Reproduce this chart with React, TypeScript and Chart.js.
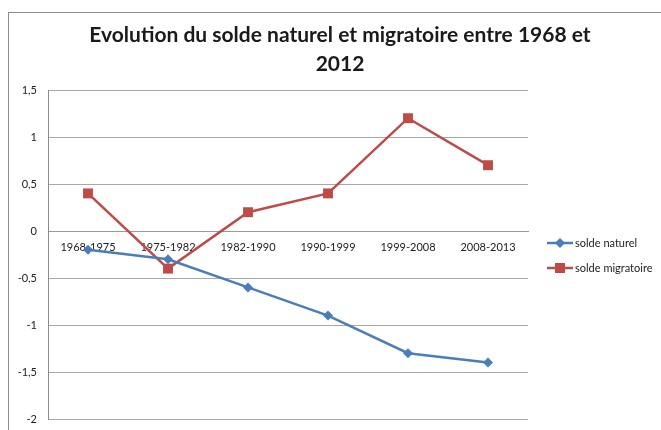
import React, { useEffect, useRef } from "react";
import { Chart, registerables } from "chart.js";
Chart.register(...registerables);

const categories = ["1968-1975", "1975-1982", "1982-1990", "1990-1999", "1999-2008", "2008-2013"];
const soldeNaturel = [-0.2, -0.3, -0.6, -0.9, -1.3, -1.4];
const soldeMigratoire = [0.4, -0.4, 0.2, 0.4, 1.2, 0.7];
const seriesNames = ["solde naturel", "solde migratoire"];
const titleLines = ["Evolution du solde naturel et migratoire entre 1968 et", "2012"];
const yMin = -2;
const yMax = 1.5;
const yStep = 0.5;

const BLUE = "#4A7EBB";
const RED = "#BE4B48";
const FONT = "Lato, 'Open Sans', sans-serif";

const decor = {
  id: "decor",
  beforeDraw(chart: any) {
    const ctx = chart.ctx;
    ctx.save();
    ctx.strokeStyle = "#8c8c8c";
    ctx.lineWidth = 1;
    ctx.strokeRect(8.5, 12.5, 720, 520);
    ctx.restore();
  },
  afterDraw(chart: any) {
    const ctx = chart.ctx;
    ctx.save();
    // title
    ctx.fillStyle = "#1a1a1a";
    ctx.font = `bold 21px ${FONT}`;
    ctx.textAlign = "center";
    ctx.textBaseline = "alphabetic";
    ctx.fillText(titleLines[0], 340, 42);
    ctx.fillText(titleLines[1], 340, 71);
    // legend
    const items = [
      { name: seriesNames[0], color: BLUE, style: "diamond", y: 243 },
      { name: seriesNames[1], color: RED, style: "square", y: 268 },
    ];
    ctx.font = `11px ${FONT}`;
    ctx.textAlign = "left";
    ctx.textBaseline = "middle";
    for (const it of items) {
      ctx.strokeStyle = it.color;
      ctx.lineWidth = 2.5;
      ctx.beginPath();
      ctx.moveTo(547, it.y);
      ctx.lineTo(573, it.y);
      ctx.stroke();
      ctx.fillStyle = it.color;
      if (it.style === "square") {
        ctx.fillRect(560 - 5, it.y - 5, 10, 10);
      } else {
        ctx.beginPath();
        ctx.moveTo(560, it.y - 5);
        ctx.lineTo(565, it.y);
        ctx.lineTo(560, it.y + 5);
        ctx.lineTo(555, it.y);
        ctx.closePath();
        ctx.fill();
      }
      ctx.fillStyle = "#222";
      ctx.fillText(it.name, 575, it.y);
    }
    ctx.restore();
  },
};

export default function App() {
  const ref = useRef<HTMLCanvasElement>(null);
  useEffect(() => {
    if (!ref.current) return;
    const chart = new Chart(ref.current, {
      type: "line",
      data: {
        labels: categories,
        datasets: [
          {
            label: seriesNames[0],
            data: soldeNaturel,
            borderColor: BLUE,
            backgroundColor: BLUE,
            borderWidth: 2.5,
            pointStyle: "rectRot",
            pointRadius: 5,
            pointBorderWidth: 0,
            tension: 0,
          },
          {
            label: seriesNames[1],
            data: soldeMigratoire,
            borderColor: RED,
            backgroundColor: RED,
            borderWidth: 2.5,
            pointStyle: "rect",
            pointRadius: 7,
            pointBorderWidth: 0,
            tension: 0,
          },
        ],
      },
      options: {
        responsive: false,
        animation: false,
        layout: { padding: { top: 90, right: 133, bottom: 11, left: 0 } },
        plugins: { legend: { display: false }, title: { display: false }, tooltip: { enabled: false } },
        scales: {
          x: {
            type: "category",
            position: { y: 0 } as any,
            offset: true,
            grid: { display: false, drawTicks: false },
            border: { display: true, color: "#9a9a9a", width: 1 },
            ticks: { font: { family: FONT, size: 11 }, color: "#222", padding: 10, maxRotation: 0, autoSkip: false },
          },
          y: {
            min: yMin,
            max: yMax,
            grid: { color: "#a8a8a8", drawTicks: false, lineWidth: 1 },
            border: { display: true, color: "#8c8c8c" },
            ticks: {
              stepSize: yStep,
              padding: 11,
              font: { family: FONT, size: 11 },
              color: "#222",
              callback: (v: any) => String(Number(v)).replace(".", ","),
            },
            afterFit: (s: any) => {
              s.width = 48;
              s.paddingTop = 0;
              s.paddingBottom = 0;
            },
          },
        },
      },
      plugins: [decor],
    });
    return () => chart.destroy();
  }, []);
  return (
    <div style={{ position: "fixed", left: 0, top: 0, width: 661, height: 430, background: "#fff" }}>
      <canvas ref={ref} width={661} height={430} style={{ display: "block" }} />
    </div>
  );
}
